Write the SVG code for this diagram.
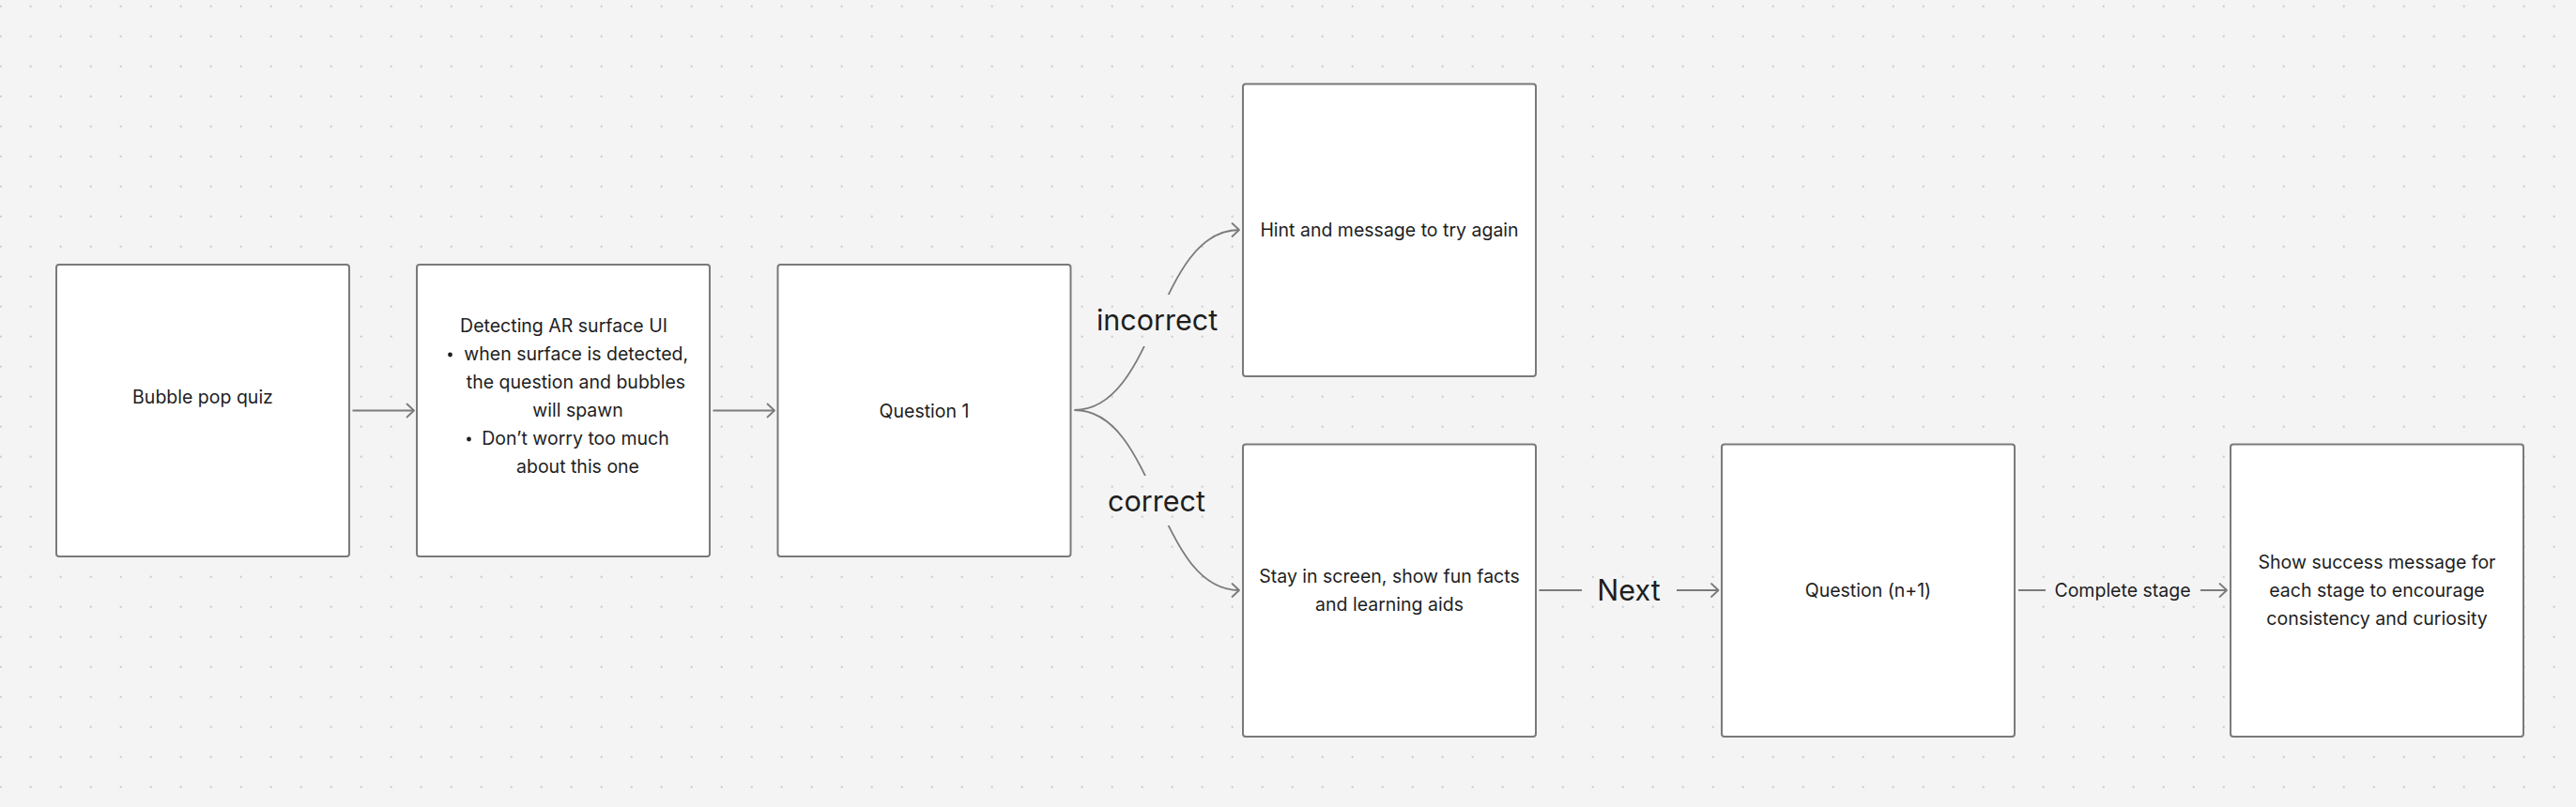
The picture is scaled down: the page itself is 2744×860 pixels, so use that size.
<svg xmlns="http://www.w3.org/2000/svg" width="2744" height="860" viewBox="0 0 2744 860">
<style>
.box{fill:#ffffff;stroke:#7a7a7a;stroke-width:2}
.t{font-family:Inter,"Noto Sans","Liberation Sans",sans-serif;font-size:19.5px;fill:#1e1e1e;text-anchor:middle}
.lbl{font-family:Inter,"Noto Sans","Liberation Sans",sans-serif;font-size:30.5px;fill:#1e1e1e;text-anchor:middle}
.con{fill:none;stroke:#7b7b7b;stroke-width:1.8;marker-end:url(#arr)}
.bul{fill:#1e1e1e}
</style>
<defs>
<pattern id="dots" width="32" height="32" patternUnits="userSpaceOnUse" x="-15.3" y="-9.3">
<circle cx="16" cy="16" r="1" fill="#bcbcbc"/>
</pattern>
<marker id="arr" viewBox="-10 -10 20 20" markerWidth="20" markerHeight="20" refX="0" refY="0" orient="auto" markerUnits="userSpaceOnUse">
<path d="M-7.5,-7 L0,0 L-7.5,7" fill="none" stroke="#7b7b7b" stroke-width="1.8" stroke-linecap="round" stroke-linejoin="round"/>
</marker>
<mask id="gaps" maskUnits="userSpaceOnUse" x="0" y="0" width="2744" height="860">
<rect width="2744" height="860" fill="#fff"/>
<rect x="1160" y="314" width="145" height="55" fill="#000"/>
<rect x="1170" y="507" width="125" height="53" fill="#000"/>
<rect x="1685" y="600" width="101" height="60" fill="#000"/>
<rect x="2179" y="610" width="165" height="40" fill="#000"/>
</mask>
</defs>
<rect width="2744" height="860" fill="#f4f4f4"/>
<rect width="2744" height="860" fill="url(#dots)"/>

<g id="connectors" mask="url(#gaps)">
<path class="con" d="M375.5 437.5 H441"/>
<path class="con" d="M759.5 437.5 H825"/>
<path class="con" d="M1144.5 437 C1232 437 1232 245 1320 245"/>
<path class="con" d="M1144.5 437 C1232 437 1232 629 1320 629"/>
<path class="con" d="M1639.5 629 H1830.5"/>
<path class="con" d="M2150 629 H2372"/>
</g>
<g id="connector-labels">
<text class="lbl" x="1232.5" y="352">incorrect</text>
<text class="lbl" x="1232" y="545">correct</text>
<text class="lbl" x="1735" y="640">Next</text>
<text class="t" x="2261" y="636">Complete stage</text>
</g>

<g id="node-bubble-pop-quiz">
<rect class="box" x="60" y="282" width="312" height="311" rx="3"/>
<text class="t" x="216" y="430">Bubble pop quiz</text>
</g>
<g id="node-detecting-ar">
<rect class="box" x="444" y="282" width="312" height="311" rx="3"/>
<text class="t" x="600.5" y="354">Detecting AR surface UI</text>
<circle class="bul" cx="479.5" cy="378" r="2.4"/>
<text class="t" x="613.7" y="384">when surface is detected,</text>
<text class="t" x="613.5" y="414">the question and bubbles</text>
<text class="t" x="615.5" y="444">will spawn</text>
<circle class="bul" cx="499.5" cy="468" r="2.4"/>
<text class="t" x="613" y="474">Don’t worry too much</text>
<text class="t" x="615.5" y="504">about this one</text>
</g>
<g id="node-question-1">
<rect class="box" x="828.5" y="282" width="312" height="311" rx="3"/>
<text class="t" x="984.5" y="444.5">Question 1</text>
</g>
<g id="node-hint">
<rect class="box" x="1324" y="89.5" width="312" height="311.5" rx="3"/>
<text class="t" x="1480" y="252">Hint and message to try again</text>
</g>
<g id="node-stay">
<rect class="box" x="1324" y="473.5" width="312" height="311.5" rx="3"/>
<text class="t" x="1480" y="621">Stay in screen, show fun facts</text>
<text class="t" x="1480" y="651">and learning aids</text>
</g>
<g id="node-question-n1">
<rect class="box" x="1834" y="473.5" width="312" height="311.5" rx="3"/>
<text class="t" x="1990" y="636">Question (n+1)</text>
</g>
<g id="node-success">
<rect class="box" x="2376" y="473.5" width="312" height="311.5" rx="3"/>
<text class="t" x="2532" y="606">Show success message for</text>
<text class="t" x="2532" y="636">each stage to encourage</text>
<text class="t" x="2532" y="666">consistency and curiosity</text>
</g>
</svg>
